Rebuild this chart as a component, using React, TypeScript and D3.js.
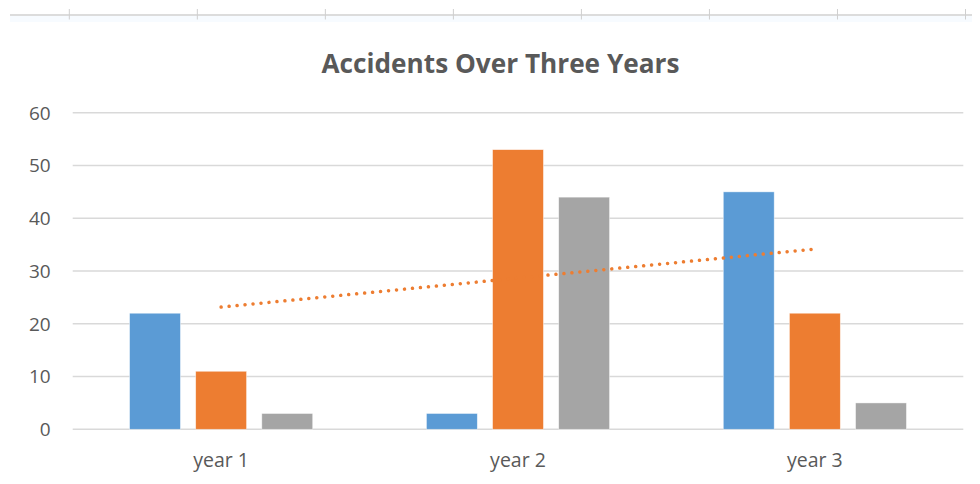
import * as d3 from "d3";
import React from "react";

const title = "Accidents Over Three Years";
const categories = ["year 1", "year 2", "year 3"];
const seriesNames = ["Series1", "Series2", "Series3"];
const series1 = [22, 3, 45];
const series2 = [11, 53, 22];
const series3 = [3, 44, 5];
const yTicks = [0, 10, 20, 30, 40, 50, 60];
const colors = ["#5B9BD5", "#ED7D31", "#A5A5A5"];

const svgWidth = 980;
const svgHeight = 484;
const margin = { top: 112.7, right: 16.7, bottom: 54.7, left: 72.7 };
const font = "'Open Sans', sans-serif";
const textColor = "#595959";

export default function App() {
  const w = svgWidth - margin.left - margin.right;
  const h = svgHeight - margin.top - margin.bottom;
  const allSeries = [series1, series2, series3];

  const x0 = d3.scaleBand<string>()
    .domain(categories)
    .range([0, w])
    .paddingInner(0.383)
    .paddingOuter(0.1915);

  const x1 = d3.scaleBand<string>()
    .domain(seriesNames)
    .range([0, x0.bandwidth()])
    .paddingInner(0.23);

  const y = d3.scaleLinear().domain([0, 60]).range([h, 0]);

  // linear trendline for the orange series
  const xs = series2.map((_, i) => i + 1);
  const mx = d3.mean(xs) as number;
  const my = d3.mean(series2) as number;
  const slope = d3.sum(xs, (v, i) => (v - mx) * (series2[i] - my)) / d3.sum(xs, (v) => (v - mx) * (v - mx));
  const icpt = my - slope * mx;
  const center = (c: string) => (x0(c) as number) + x0.bandwidth() / 2;
  const trendPts: [number, number][] = categories.map((c, i) => [center(c), y(icpt + slope * (i + 1))]);
  const trendLine = d3.line()([trendPts[0], trendPts[trendPts.length - 1]]);

  // spreadsheet column strip on top
  const colX = d3.scaleLinear().domain([0, 7]).range([69.3, 965.5]);

  return (
    <div style={{ margin: -8 }}>
      <svg width={svgWidth} height={svgHeight} style={{ display: "block", background: "#fff" }}>
        <rect x={10} y={16} width={970} height={6} fill="#f7fbff" />
        <line x1={10} x2={980} y1={15} y2={15} stroke="#dcdcdc" strokeWidth={2} />
        {d3.range(8).map((i) => (
          <line key={i} x1={colX(i)} x2={colX(i)} y1={9} y2={19.5} stroke="#cfcfcf" strokeWidth={1} />
        ))}

        <text x={500.5} y={72.5} textAnchor="middle" fontFamily={font} fontWeight="bold" fontSize={26.2} fill={textColor}>
          {title}
        </text>

        <g transform={`translate(${margin.left},${margin.top})`}>
          {yTicks.map((t) => (
            <g key={t}>
              <line x1={0} x2={w} y1={y(t)} y2={y(t)} stroke="#D9D9D9" strokeWidth={1.6} />
              <text x={-22} y={y(t)} dy="0.36em" textAnchor="end" fontFamily={font} fontSize={19} fill={textColor}>
                {t}
              </text>
            </g>
          ))}

          {categories.map((c, ci) => (
            <g key={c} transform={`translate(${x0(c)},0)`}>
              {allSeries.map((s, si) => (
                <rect
                  key={si}
                  x={x1(seriesNames[si])}
                  y={y(s[ci])}
                  width={x1.bandwidth()}
                  height={h - y(s[ci])}
                  fill={colors[si]}
                  stroke="#ffffff"
                  strokeOpacity={0.6}
                  strokeWidth={0.75}
                />
              ))}
              <text x={x0.bandwidth() / 2} y={h + 37.5} textAnchor="middle" fontFamily={font} fontSize={19.5} fill={textColor}>
                {c}
              </text>
            </g>
          ))}

          <path
            d={trendLine as string}
            fill="none"
            stroke={colors[1]}
            strokeWidth={3.5}
            strokeDasharray="0.01 8"
            strokeLinecap="round"
          />
        </g>
      </svg>
    </div>
  );
}
